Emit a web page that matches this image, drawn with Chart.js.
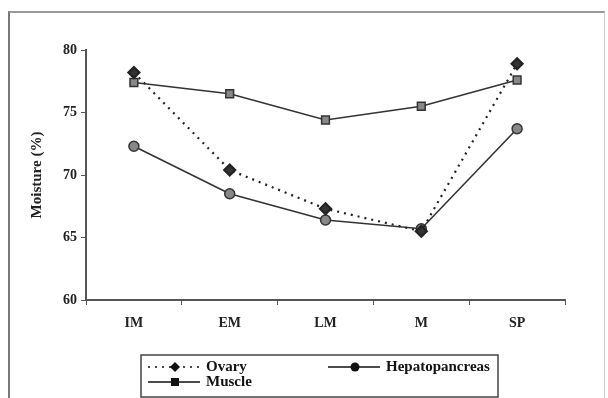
<!DOCTYPE html>
<html>
<head>
<meta charset="utf-8">
<script src="https://cdn.jsdelivr.net/npm/chart.js@4/dist/chart.umd.min.js"></script>
<style>
  html, body { margin: 0; padding: 0; background: #fff; }
  #wrap { position: relative; width: 608px; height: 398px; }
  #frame { position: absolute; left: 8px; top: 11px; width: 597px; height: 400px; border-left: 2px solid #777; border-top: 2px solid #999; border-right: 1px solid #ccc; box-sizing: border-box; }
</style>
</head>
<body>
<div id="wrap">
  <div id="frame"></div>
  <canvas id="myChart" width="608" height="398"></canvas>
</div>
<script>
'use strict';

// stages and moisture values (%)
const stages = ['IM', 'EM', 'LM', 'M', 'SP'];
const ovary = [78.2, 70.4, 67.3, 65.5, 78.9];
const hepatopancreas = [72.3, 68.5, 66.4, 65.7, 73.7];
const muscle = [77.4, 76.5, 74.4, 75.5, 77.6];
const yTicks = [60, 65, 70, 75, 80];

const serif = '"Liberation Serif", "Times New Roman", serif';

// legend drawn by hand inside a box, like the original figure
const boxLegend = {
  id: 'boxLegend',
  afterDraw(chart) {
    const ctx = chart.ctx;
    ctx.save();
    ctx.strokeStyle = '#444';
    ctx.lineWidth = 1.5;
    ctx.strokeRect(141, 355, 357, 42);

    const items = [
      { ds: 0, x: 148, y: 367, text: 'Ovary' },
      { ds: 1, x: 328, y: 367, text: 'Hepatopancreas' },
      { ds: 2, x: 148, y: 382, text: 'Muscle' }
    ];
    items.forEach(function (it) {
      const d = chart.data.datasets[it.ds];
      ctx.strokeStyle = '#111';
      ctx.lineWidth = 1.5;
      ctx.setLineDash(d.borderDash || []);
      ctx.beginPath();
      ctx.moveTo(it.x, it.y);
      ctx.lineTo(it.x + 52, it.y);
      ctx.stroke();
      ctx.setLineDash([]);
      ctx.fillStyle = '#111';
      const cx = it.x + 27;
      ctx.beginPath();
      if (d.pointStyle === 'rectRot') {
        ctx.moveTo(cx, it.y - 5); ctx.lineTo(cx + 5, it.y); ctx.lineTo(cx, it.y + 5); ctx.lineTo(cx - 5, it.y);
        ctx.closePath();
      } else if (d.pointStyle === 'rect') {
        ctx.rect(cx - 4, it.y - 4, 8, 8);
      } else {
        ctx.arc(cx, it.y, 4.5, 0, Math.PI * 2);
      }
      ctx.fill();
      ctx.font = 'bold 15px ' + serif;
      ctx.textBaseline = 'middle';
      ctx.fillText(it.text, it.x + 58, it.y);
    });
    ctx.restore();
  }
};

const marksData = {
  labels: stages,
  datasets: [
    { label: 'Ovary', data: ovary, borderColor: '#222', borderWidth: 2.2, borderDash: [2, 5],
      pointStyle: 'rectRot', pointRadius: 5.5, backgroundColor: '#333', pointBorderColor: '#222' },
    { label: 'Hepatopancreas', data: hepatopancreas, borderColor: '#333', borderWidth: 1.6,
      pointStyle: 'circle', pointRadius: 5, backgroundColor: '#888', pointBorderColor: '#333', pointBorderWidth: 1.5 },
    { label: 'Muscle', data: muscle, borderColor: '#333', borderWidth: 1.6,
      pointStyle: 'rect', pointRadius: 5.5, backgroundColor: '#888', pointBorderColor: '#333', pointBorderWidth: 1.5 }
  ]
};

const options = {
  responsive: false,
  animation: false,
  layout: { padding: { left: 28, top: 50, right: 43, bottom: 58 } },
  plugins: { legend: { display: false }, tooltip: { enabled: false } },
  scales: {
    x: {
      offset: true,
      grid: { offset: true, drawOnChartArea: false, tickLength: 5, color: '#555' },
      border: { color: '#555', width: 2 },
      ticks: { color: '#222', padding: 10, font: { family: serif, size: 14, weight: 'bold' } },
      afterFit: function (s) { s.height = 40; }
    },
    y: {
      min: 60, max: 80,
      afterBuildTicks: function (s) { s.ticks = yTicks.map(function (v) { return { value: v }; }); },
      grid: { drawOnChartArea: false, tickLength: 5, color: '#555' },
      border: { color: '#555', width: 2 },
      ticks: { color: '#222', padding: 4, font: { family: serif, size: 14, weight: 'bold' } },
      title: { display: true, text: 'Moisture (%)', color: '#222', padding: { top: 0, bottom: 0 },
               font: { family: serif, size: 15, weight: 'bold' } },
      afterFit: function (s) { s.width = 58; }
    }
  }
};

new Chart(document.getElementById('myChart'), {
  type: 'line',
  data: marksData,
  options: options,
  plugins: [boxLegend]
});
</script>
</body>
</html>
